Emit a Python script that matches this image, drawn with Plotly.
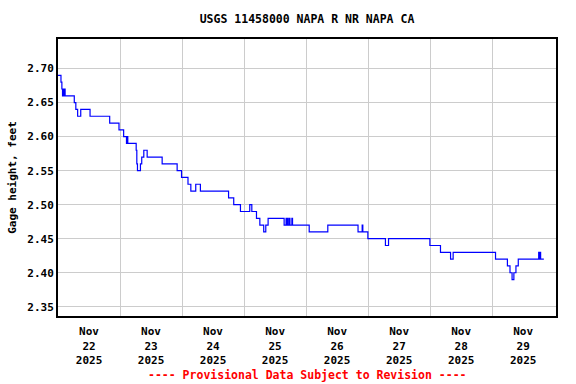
import pandas as pd
import plotly.graph_objects as go

# Gage height change points: hours after 2025-11-22 00:00 and value (ft)
hours = [0.0, 0.25, 1.15, 1.5, 1.75, 2.0, 2.25, 2.5, 2.75,
         6.3, 6.9, 7.6, 8.8, 12.4, 20.0, 23.6, 25.4, 26.5, 26.75, 27.0, 27.4,
         30.25, 30.5, 30.75, 31.9, 32.4, 33.2, 34.5, 40.3, 46.1, 47.8,
         50.3, 51.4, 53.3, 55.1, 66.0, 66.5, 68.0, 70.6, 74.2, 75.0,
         76.8, 78.1, 79.6, 80.4, 81.3, 87.5, 88.25, 88.5, 88.75, 89.0,
         89.5, 89.75, 90.5, 90.75, 97.2, 104.4, 116.1, 117.7, 117.95,
         119.9, 126.7, 127.9, 143.9, 148.0, 151.9, 152.9, 169.3,
         173.9, 174.9, 175.7, 176.4, 177.2, 178.1,
         186.0, 186.25, 186.5, 186.75, 188.0]
gage_ft = [2.69, 2.69, 2.68, 2.67, 2.66, 2.67, 2.66, 2.67, 2.66,
           2.65, 2.64, 2.63, 2.64, 2.63, 2.62, 2.61, 2.60, 2.59, 2.60, 2.59, 2.59,
           2.58, 2.56, 2.55, 2.56, 2.57, 2.58, 2.57, 2.56, 2.55, 2.54,
           2.53, 2.52, 2.53, 2.52, 2.51, 2.51, 2.50, 2.49, 2.50, 2.49,
           2.48, 2.47, 2.46, 2.47, 2.48, 2.47, 2.48, 2.47, 2.48, 2.47,
           2.48, 2.47, 2.48, 2.47, 2.46, 2.47, 2.46, 2.47, 2.46,
           2.45, 2.44, 2.45, 2.44, 2.43, 2.42, 2.43, 2.42,
           2.41, 2.40, 2.39, 2.40, 2.41, 2.42,
           2.43, 2.42, 2.43, 2.42, 2.42]

days = ["2025-11-22", "2025-11-23", "2025-11-24", "2025-11-25",
        "2025-11-26", "2025-11-27", "2025-11-28", "2025-11-29"]
day_labels = ["Nov<br>22<br>2025", "Nov<br>23<br>2025", "Nov<br>24<br>2025",
              "Nov<br>25<br>2025", "Nov<br>26<br>2025", "Nov<br>27<br>2025",
              "Nov<br>28<br>2025", "Nov<br>29<br>2025"]
y_ticks = [2.35, 2.40, 2.45, 2.50, 2.55, 2.60, 2.65, 2.70]

base = pd.Timestamp("2025-11-22 00:00")
times = [base + pd.Timedelta(hours=h) for h in hours]
noon = [pd.Timestamp(d) + pd.Timedelta(hours=12) for d in days]
midnights = [pd.Timestamp(d) for d in days[1:]]

FONT = dict(family="DejaVu Sans Mono", color="black", size=11, weight="bold")

fig = go.Figure()
fig.add_trace(go.Scatter(x=times, y=gage_ft, mode="lines",
                         line=dict(color="#0000ff", width=1.2, shape="hv"),
                         showlegend=False))

fig.update_layout(
    width=576, height=384,
    margin=dict(l=58, r=20, t=39, b=68),
    paper_bgcolor="white", plot_bgcolor="white",
    font=FONT,
    title=dict(text="USGS 11458000 NAPA R NR NAPA CA", x=0.5, xref="paper",
               y=1 - 19 / 384, yanchor="middle", yref="container",
               font=dict(family="DejaVu Sans Mono", size=11.5, color="black", weight="bold")),
    annotations=[dict(text="---- Provisional Data Subject to Revision ----",
                      x=0.5, xref="paper", y=-(375 - 316) / 277, yref="paper",
                      yanchor="middle", showarrow=False,
                      font=dict(family="DejaVu Sans Mono", size=11.5, color="red", weight="bold"))],
)
fig.update_xaxes(
    automargin=False,
    range=[base, base + pd.Timedelta(hours=192.7)],
    tickvals=noon, ticktext=day_labels, ticks="", showgrid=False,
    tickfont=FONT, ticklabelstandoff=4,
    minor=dict(tickvals=midnights, showgrid=True, gridcolor="#cccccc", gridwidth=1, ticks=""),
    showline=True, linecolor="black", linewidth=2, mirror=True, zeroline=False,
)
fig.update_yaxes(
    automargin=False,
    range=[2.3364, 2.7435],
    tickvals=y_ticks, tickformat=".2f", ticks="", showgrid=True,
    gridcolor="#cccccc", gridwidth=1, tickfont=FONT,
    title=dict(text="Gage height, feet", font=FONT, standoff=8),
    showline=True, linecolor="black", linewidth=2, mirror=True, zeroline=False,
)

fig.write_html("out.html", config={"displayModeBar": False},
               post_script="document.body.style.margin='0';")
